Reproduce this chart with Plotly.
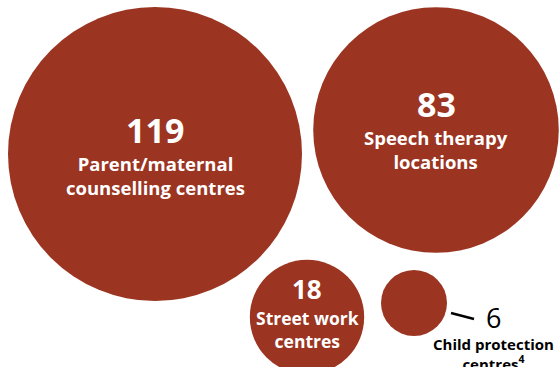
import plotly.graph_objects as go

############### Data
values = [119, 83, 18, 6]
numbers = ["119", "83", "18", "6"]
labels = [
    "Parent/maternal<br>counselling centres",
    "Speech therapy<br>locations",
    "Street work<br>centres",
    "Child protection<br>centres<sup>4</sup>",
]

############### Layout of the packed bubbles (pixel space, origin top-left)
pos_x = [155, 436, 307, 414]
pos_y = [154, 130, 317, 303]

RUST = "#9B3421"
FONT = "Open Sans, Roboto, sans-serif"
W, H = 560, 367
max_diam = 294

fig = go.Figure()
fig.add_trace(
    go.Scatter(
        x=pos_x,
        y=pos_y,
        mode="markers",
        marker=dict(
            size=values,
            sizemode="area",
            sizeref=2.0 * max(values) / max_diam**2,
            color=RUST,
            line_width=0,
            opacity=1,
        ),
        hoverinfo="skip",
    )
)

## numbers + labels inside the bubbles
num_dy = [-24, -26, -28]
lab_dy = [21, 19, 12]
num_size = [34, 34, 26]
lab_size = [18.5, 18.5, 17.5]
for i in range(3):
    fig.add_annotation(
        x=pos_x[i], y=pos_y[i] + num_dy[i], text="<b>%s</b>" % numbers[i],
        showarrow=False, font=dict(family=FONT, size=num_size[i], color="white"),
    )
    fig.add_annotation(
        x=pos_x[i], y=pos_y[i] + lab_dy[i], text="<b>%s</b>" % labels[i],
        showarrow=False, align="center",
        font=dict(family=FONT, size=lab_size[i], color="white"),
    )

## small bubble: label outside with a leader line
fig.add_shape(type="line", x0=451, y0=313, x1=474, y1=319,
              line=dict(color="black", width=2.5))
fig.add_annotation(
    x=493, y=317, text=numbers[3], showarrow=False,
    font=dict(family=FONT, size=27, color="black"),
)
fig.add_annotation(
    x=493, y=354, text="<b>%s</b>" % labels[3], showarrow=False, align="center",
    font=dict(family=FONT, size=15, color="black"),
)

fig.update_xaxes(range=[0, W], visible=False, fixedrange=True)
fig.update_yaxes(range=[H, 0], visible=False, fixedrange=True)
fig.update_layout(
    width=W, height=H,
    margin=dict(l=0, r=0, t=0, b=0),
    plot_bgcolor="white", paper_bgcolor="white",
    showlegend=False,
)

fig.write_html("out.html", config={"displayModeBar": False},
               post_script="document.body.style.margin='0px';")
